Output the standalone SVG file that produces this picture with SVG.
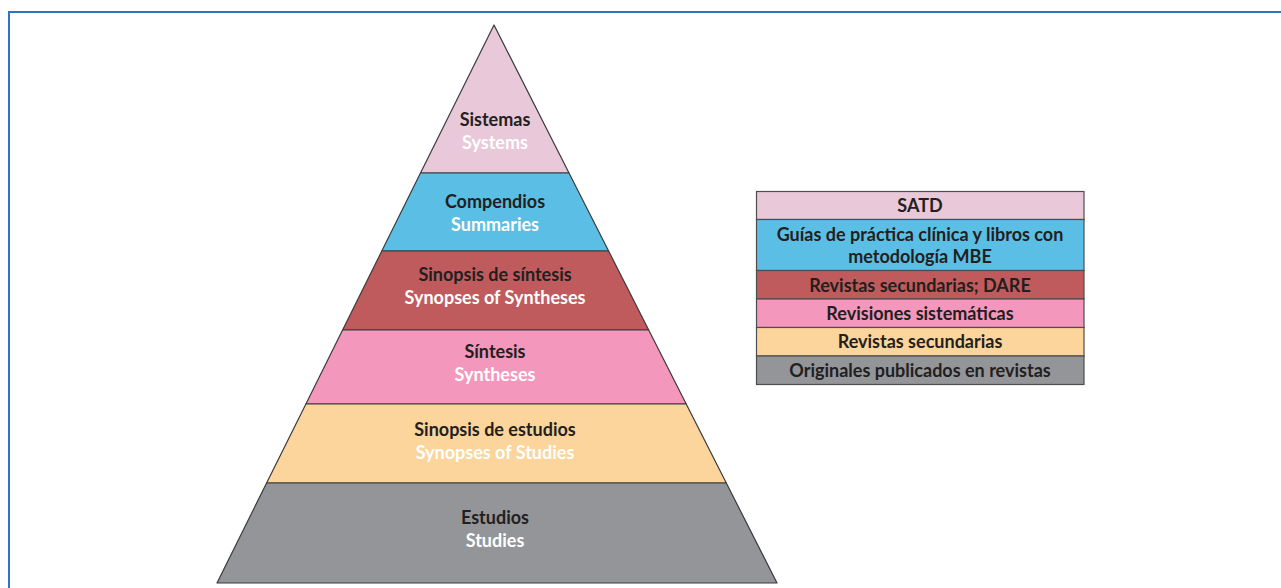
<svg xmlns="http://www.w3.org/2000/svg" width="1281" height="588" viewBox="0 0 1281 588">
  <style>
    .band { stroke: #3a3a3c; stroke-width: 1.2; stroke-linejoin: round; }
    .es { font-family: Lato, "Open Sans", "Liberation Sans", sans-serif; font-weight: 700; font-size: 18px; fill: #231f20; text-anchor: middle; }
    .en { font-family: Lato, "Open Sans", "Liberation Sans", sans-serif; font-weight: 700; font-size: 18px; fill: #ffffff; text-anchor: middle; }
    .row { stroke: #4d4d4f; stroke-width: 1.2; }
    .lg { font-family: Lato, "Open Sans", "Liberation Sans", sans-serif; font-weight: 700; font-size: 18px; fill: #231f20; text-anchor: middle; }
    .c1 { fill: #e8c8d9; }
    .c2 { fill: #5bbee5; }
    .c3 { fill: #c05b5d; }
    .c4 { fill: #f397bc; }
    .c5 { fill: #fcd59c; }
    .c6 { fill: #939598; }
  </style>

  <rect x="0" y="0" width="1281" height="588" fill="#ffffff"/>

  <!-- frame -->
  <path d="M9,588 V12 H1281" fill="none" stroke="#2e74c0" stroke-width="2"/>

  <!-- pyramid levels, top to bottom -->
  <g id="level-systems">
    <polygon class="band c1" points="494,25 569,173 420.5,173"/>
    <text class="es" x="495" y="125.5">Sistemas</text>
    <text class="en" x="495" y="148.5">Systems</text>
  </g>
  <g id="level-summaries">
    <polygon class="band c2" points="420.5,173 569,173 608.6,251 381.8,251"/>
    <text class="es" x="495" y="207.5">Compendios</text>
    <text class="en" x="495" y="230.5">Summaries</text>
  </g>
  <g id="level-synopses-syntheses">
    <polygon class="band c3" points="381.8,251 608.6,251 648.7,330 342.6,330"/>
    <text class="es" x="495" y="281">Sinopsis de síntesis</text>
    <text class="en" x="495" y="304">Synopses of Syntheses</text>
  </g>
  <g id="level-syntheses">
    <polygon class="band c4" points="342.6,330 648.7,330 686.2,404 305.9,404"/>
    <text class="es" x="495" y="357.5">Síntesis</text>
    <text class="en" x="495" y="381">Syntheses</text>
  </g>
  <g id="level-synopses-studies">
    <polygon class="band c5" points="305.9,404 686.2,404 726.3,483 266.6,483"/>
    <text class="es" x="495" y="435.5">Sinopsis de estudios</text>
    <text class="en" x="495" y="458.5">Synopses of Studies</text>
  </g>
  <g id="level-studies">
    <polygon class="band c6" points="266.6,483 726.3,483 777,583 217,583"/>
    <text class="es" x="495" y="523.5">Estudios</text>
    <text class="en" x="495" y="546.5">Studies</text>
  </g>

  <!-- source table -->
  <g id="legend">
    <rect class="row c1" x="756.5" y="191.5" width="327.5" height="28"/>
    <rect class="row c2" x="756.5" y="219.5" width="327.5" height="51"/>
    <rect class="row c3" x="756.5" y="270.5" width="327.5" height="28.5"/>
    <rect class="row c4" x="756.5" y="299" width="327.5" height="28.5"/>
    <rect class="row c5" x="756.5" y="327.5" width="327.5" height="28.5"/>
    <rect class="row c6" x="756.5" y="356" width="327.5" height="28.5"/>
    <text class="lg" x="920" y="212">SATD</text>
    <text class="lg" x="920" y="240.5">Guías de práctica clínica y libros con</text>
    <text class="lg" x="920" y="263">metodología MBE</text>
    <text class="lg" x="920" y="291.5">Revistas secundarias; DARE</text>
    <text class="lg" x="920" y="319.5">Revisiones sistemáticas</text>
    <text class="lg" x="920" y="348">Revistas secundarias</text>
    <text class="lg" x="920" y="376.5">Originales publicados en revistas</text>
  </g>
</svg>
